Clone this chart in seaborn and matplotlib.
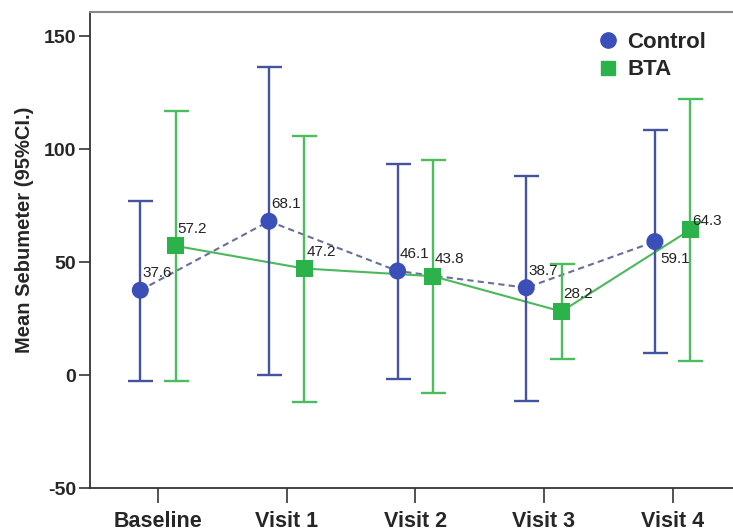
import numpy as np
import pandas as pd
import matplotlib
matplotlib.use('Agg')
import matplotlib.pyplot as plt
import seaborn as sns
from matplotlib.lines import Line2D

# Data
visits = ['Baseline', 'Visit 1', 'Visit 2', 'Visit 3', 'Visit 4']
control_mean = [37.6, 68.1, 46.1, 38.7, 59.1]
control_lo = [-2.5, 0.1, -1.5, -11.3, 9.8]
control_hi = [77.2, 136.4, 93.6, 88.3, 108.5]
bta_mean = [57.2, 47.2, 43.8, 28.2, 64.3]
bta_lo = [-2.5, -12.0, -7.9, 7.0, 6.4]
bta_hi = [116.8, 106.0, 95.1, 49.1, 122.2]

sns.set_style('white')
plt.rcParams['font.family'] = ['Liberation Sans', 'DejaVu Sans']

pos = np.arange(len(visits))
dodge = 0.137
df = pd.concat([
    pd.DataFrame({'visit': visits, 'x': pos - dodge, 'mean': control_mean,
                  'lo': control_lo, 'hi': control_hi, 'group': 'Control'}),
    pd.DataFrame({'visit': visits, 'x': pos + dodge, 'mean': bta_mean,
                  'lo': bta_lo, 'hi': bta_hi, 'group': 'BTA'}),
], ignore_index=True)

marker_col = {'Control': '#3a4fb7', 'BTA': '#2cb24b'}
bar_col = {'Control': '#44539f', 'BTA': '#4cbd5c'}
line_col = {'Control': '#66709a', 'BTA': '#4cb85c'}

fig = plt.figure(figsize=(7.33, 5.32), dpi=100)
ax = fig.add_axes([90 / 733, 1 - 488.3 / 532, 1 - 90 / 733, (488.3 - 12.3) / 532])

# connecting lines
sns.lineplot(data=df[df.group == 'Control'], x='x', y='mean', color=line_col['Control'],
             lw=1.5, ax=ax, zorder=2).lines[-1].set_dashes((3, 2))
sns.lineplot(data=df[df.group == 'BTA'], x='x', y='mean', color=line_col['BTA'],
             lw=1.5, ax=ax, zorder=2)

# error bars
for g in ['Control', 'BTA']:
    d = df[df.group == g]
    ax.errorbar(d['x'], d['mean'], yerr=[d['mean'] - d['lo'], d['hi'] - d['mean']],
                fmt='none', ecolor=bar_col[g], elinewidth=1.7, capsize=9, capthick=1.7, zorder=3)

# markers
sns.scatterplot(data=df, x='x', y='mean', hue='group', style='group',
                markers={'Control': 'o', 'BTA': 's'}, palette=marker_col,
                s=150, linewidth=0, legend=False, ax=ax, zorder=4)

# value labels
for _, r in df.iterrows():
    if r['group'] == 'Control' and r['visit'] == 'Visit 4':
        off = (5, -17)
    elif r['group'] == 'BTA' and r['visit'] == 'Visit 4':
        off = (2, 9)
    else:
        off = (2, 17)
    ax.annotate(f"{r['mean']:.1f}", (r['x'], r['mean']), textcoords='offset pixels',
                xytext=off, ha='left', va='center', fontsize=11, color='#222222', zorder=5)

ax.set_xlim(-0.528, 4.47)
ax.set_ylim(-50, 160.5)
ax.set_xticks(pos)
ax.set_xticklabels(visits, fontsize=15.5, fontweight='bold')
ax.set_yticks([-50, 0, 50, 100, 150])
ax.set_yticklabels(['-50', '0', '50', '100', '150'], fontsize=14, fontweight='bold')
ax.set_xlabel('')
ax.set_ylabel('Mean Sebumeter (95%CI.)', fontsize=14.5, fontweight='bold')
ax.yaxis.set_label_coords(-0.087, 0.543)
ax.tick_params(axis='x', direction='out', length=11, width=1.3, color='#444444', pad=5, bottom=True)
ax.tick_params(axis='y', direction='out', length=8, width=1.3, color='#444444', pad=2, left=True)
for s in ['left', 'bottom']:
    ax.spines[s].set_color('#333333')
    ax.spines[s].set_linewidth(1.3)
ax.spines['top'].set_color('#888888')
ax.spines['top'].set_linewidth(1.5)
ax.spines['right'].set_visible(False)

handles = [
    Line2D([], [], marker='o', ls='none', color=marker_col['Control'], markersize=11),
    Line2D([], [], marker='s', ls='none', color=marker_col['BTA'], markersize=10),
]
ax.legend(handles, ['Control', 'BTA'], loc='upper left', bbox_to_anchor=(0.775, 0.978),
          borderaxespad=0, frameon=False, prop={'size': 16, 'weight': 'bold'},
          handletextpad=0.35, labelspacing=0.3, handlelength=1.0)

fig.savefig('out.png', dpi=100)
